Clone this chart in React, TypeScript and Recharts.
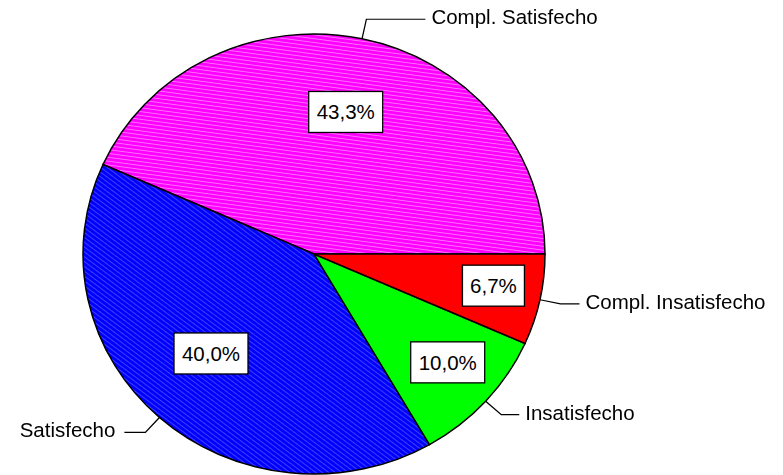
import React from 'react';
import { PieChart, Pie, Cell } from 'recharts';

const CATEGORIES = ['Compl. Satisfecho', 'Satisfecho', 'Insatisfecho', 'Compl. Insatisfecho'];
const COUNTS = [13, 12, 3, 2];
const FILLS = ['url(#pMag)', 'url(#pBlue)', '#00FF00', '#FF0000'];

// label placement tweaks (per slice)
const BOX_R = [0.66, 0.635, 0.76, 0.79];
const BOX_NUDGE = [0, -2.6, 1.6, 1.5];
const ELBOW = [59, 21, 18, 19];

const data = CATEGORIES.map((name, i) => ({ name, value: COUNTS[i] }));

const K = 220 / 231; // vertical squash, pie is a bit oval
const W = 783;
const H = 475 / K;
const CX = 314;
const CY = 254 / K;
const R = 231;
const FONT = "'Liberation Sans', Arial, sans-serif";
const RAD = Math.PI / 180;

const renderLabel = (props: any) => {
  const { cx, cy, midAngle, outerRadius, percent, index, name } = props;

  const a = (midAngle + BOX_NUDGE[index]) * RAD;
  const br = outerRadius * BOX_R[index];
  const bx = cx + br * Math.cos(a);
  const by = cy - br * Math.sin(a);
  const txt = (percent * 100).toFixed(1).replace('.', ',') + '%';
  const w = txt.length * 12 + 14;
  const h = 41;

  const m = midAngle * RAD;
  const ex = cx + outerRadius * Math.cos(m);
  const ey = cy - outerRadius * Math.sin(m);
  const er = outerRadius + 21;
  const lx = cx + er * Math.cos(m);
  const ly = cy - er * Math.sin(m);
  const right = Math.cos(m) >= 0;
  const hx = lx + (right ? 1 : -1) * ELBOW[index];
  const tx = hx + (right ? 6 : -9);

  return (
    <g key={`lbl-${index}`}>
      <path d={`M${ex},${ey}L${lx},${ly}L${hx},${ly}`} stroke="#000" strokeWidth={1.3} fill="none" />
      <g transform={`translate(${tx},${ly}) scale(1,${1 / K})`}>
        <text
          x={0}
          y={-2.5}
          textAnchor={right ? 'start' : 'end'}
          dominantBaseline="central"
          fontFamily={FONT}
          fontSize={20.5}
          fill="#000"
        >
          {name}
        </text>
      </g>
      <g transform={`translate(${bx},${by}) scale(1,${1 / K})`}>
        <rect x={-w / 2} y={-h / 2} width={w} height={h} fill="#fff" stroke="#000" strokeWidth={1.3} />
        <text
          x={0}
          y={0}
          textAnchor="middle"
          dominantBaseline="central"
          fontFamily={FONT}
          fontSize={20.5}
          fill="#000"
        >
          {txt}
        </text>
      </g>
    </g>
  );
};

export default function App() {
  return (
    <div
      style={{
        position: 'absolute',
        left: 0,
        top: 0,
        width: W,
        height: H,
        transform: `scaleY(${K})`,
        transformOrigin: '0 0',
      }}
    >
      <PieChart width={W} height={H} margin={{ top: 0, right: 0, bottom: 0, left: 0 }}>
        <defs>
          <pattern id="pMag" width="4" height="4" patternUnits="userSpaceOnUse" patternTransform="rotate(8)">
            <rect width="4" height="4" fill="#FF00FF" />
            <rect width="4" height="1" fill="#FF70FF" />
          </pattern>
          <pattern id="pBlue" width="4" height="4" patternUnits="userSpaceOnUse" patternTransform="rotate(38)">
            <rect width="4" height="4" fill="#0000FF" />
            <rect width="4" height="1" fill="#4040FF" />
          </pattern>
        </defs>
        <Pie
          data={data}
          dataKey="value"
          nameKey="name"
          cx={CX}
          cy={CY}
          outerRadius={R}
          startAngle={0}
          endAngle={360}
          stroke="#000"
          strokeWidth={1.5}
          label={renderLabel}
          labelLine={false}
          isAnimationActive={false}
        >
          {data.map((d, i) => (
            <Cell key={d.name} fill={FILLS[i]} />
          ))}
        </Pie>
      </PieChart>
    </div>
  );
}
